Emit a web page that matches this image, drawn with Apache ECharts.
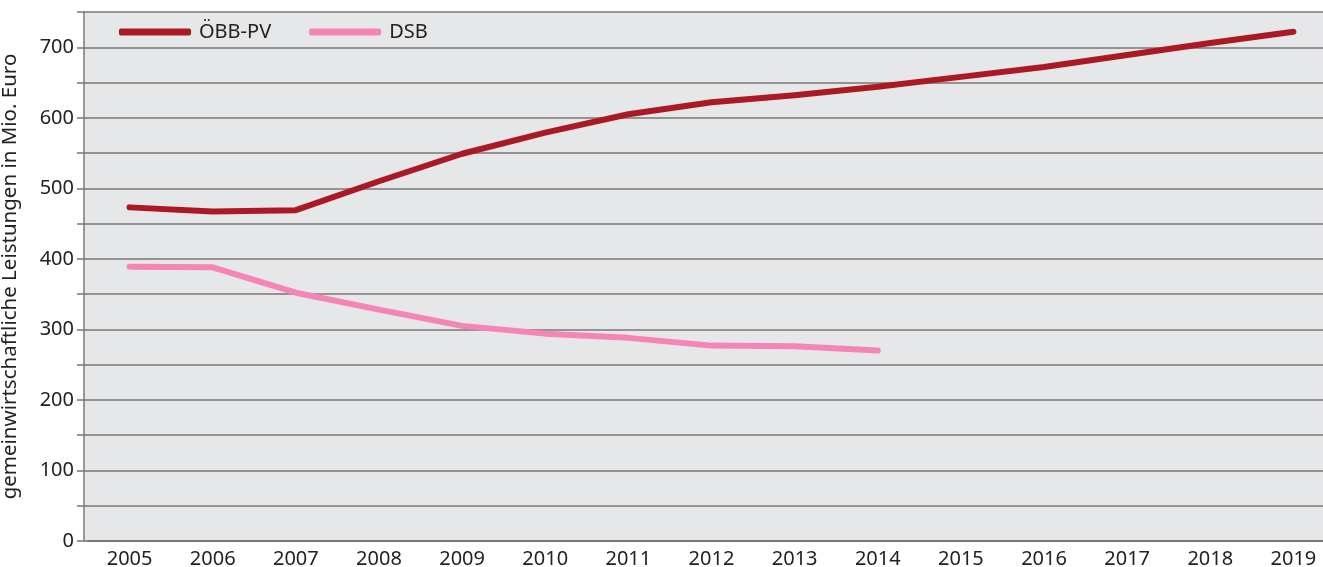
<!DOCTYPE html>
<html>
<head>
<meta charset="utf-8">
<script src="https://cdn.jsdelivr.net/npm/echarts@6/dist/echarts.min.js"></script>
<style>
  html, body { margin: 0; padding: 0; background: #fff; }
  #chart { width: 1323px; height: 567px; }
</style>
</head>
<body>
<div id="chart"></div>
<script>
var years = ['2005', '2006', '2007', '2008', '2009', '2010', '2011', '2012', '2013', '2014', '2015', '2016', '2017', '2018', '2019'];
var oebbPV = [473, 467, 469, 510, 549, 579, 605, 622, 632, 644, 658, 672, 689, 706, 722];
var dsb = [389, 388, 352, 328, 305, 294, 288, 277, 276, 270];

var chart = echarts.init(document.getElementById('chart'));
var font = 'Noto Sans';

var option = {
  backgroundColor: '#fff',
  animation: false,
  // plot background, a little wider than the grid so the axis line sits on its edge
  graphic: [{
    type: 'rect',
    left: 84,
    top: 12,
    z: -10,
    shape: { width: 1250, height: 529 },
    style: { fill: '#e6e7e9' }
  }],
  grid: {
    left: 88,
    right: -12,
    top: 12,
    bottom: 26,
    outerBoundsMode: 'none',
    show: false
  },
  legend: {
    left: 114,
    top: 17,
    itemWidth: 72,
    itemHeight: 7,
    itemGap: 38,
    icon: 'roundRect',
    textStyle: { fontFamily: font, fontSize: 20, color: '#222', padding: [0, 0, 0, 3] },
    data: ['ÖBB-PV', 'DSB']
  },
  xAxis: {
    type: 'category',
    data: years,
    boundaryGap: true,
    axisLine: { show: true, lineStyle: { color: '#777', width: 2 } },
    axisTick: { show: false },
    axisLabel: { fontFamily: font, fontSize: 20, color: '#222', margin: 8 },
    splitLine: { show: false }
  },
  yAxis: [
    {
      type: 'value',
      min: 0,
      max: 750,
      interval: 50,
      offset: 4,
      name: 'gemeinwirtschaftliche Leistungen in Mio. Euro',
      nameLocation: 'middle',
      nameGap: 63,
      nameTextStyle: { fontFamily: font, fontSize: 20.5, color: '#222' },
      axisLine: { show: true, lineStyle: { color: '#999', width: 2 } },
      axisTick: { show: true, length: 7, lineStyle: { color: '#777', width: 1.5 } },
      axisLabel: {
        fontFamily: font, fontSize: 20, color: '#222', margin: 10,
        formatter: function (v) { return (v % 100 === 0 && v < 750) ? String(v) : ''; }
      },
      splitLine: { show: true, lineStyle: { color: '#777', width: 1.5 } }
    },
    {
      // short inside ticks to join the gridlines to the axis line
      type: 'value',
      position: 'left',
      min: 0,
      max: 750,
      interval: 50,
      offset: 4,
      axisLine: { show: false },
      axisTick: { show: true, inside: true, length: 4, lineStyle: { color: '#777', width: 1.5 } },
      axisLabel: { show: false },
      splitLine: { show: false }
    }
  ],
  series: [
    {
      name: 'ÖBB-PV',
      type: 'line',
      data: oebbPV,
      symbol: 'none',
      color: '#ab1a24',
      lineStyle: { width: 6, cap: 'round', join: 'round', color: '#ab1a24' }
    },
    {
      name: 'DSB',
      type: 'line',
      data: dsb,
      symbol: 'none',
      color: '#f585b6',
      lineStyle: { width: 6, cap: 'round', join: 'round', color: '#f585b6' }
    }
  ]
};

chart.setOption(option);
</script>
</body>
</html>
